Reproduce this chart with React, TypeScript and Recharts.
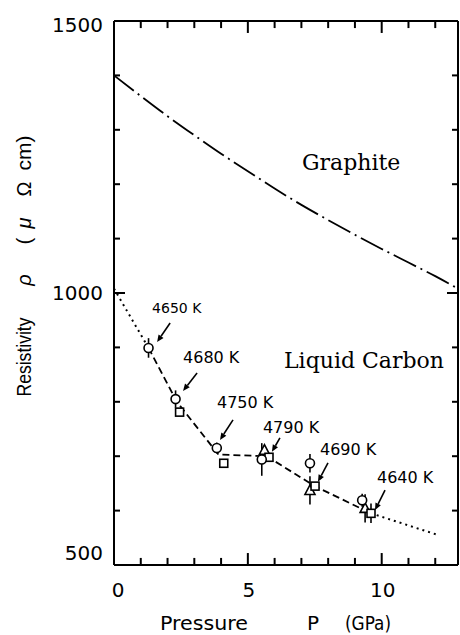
import React from "react";
import { ComposedChart, Line, Scatter, XAxis, YAxis, ErrorBar } from "recharts";

// graphite curve (dash-dot)
const graphiteP = [0, 1, 2, 3, 4, 5, 6, 7, 8, 9, 10, 11, 12, 12.85];
const graphiteRho = [1400, 1362, 1325, 1290, 1256, 1224, 1192, 1162, 1134, 1107, 1081, 1056, 1031, 1008];

// liquid carbon guide curve: dotted head, dashed middle, dotted tail
const headP = [0, 1.29];
const headRho = [1008, 899];
const fitP = [1.29, 2.35, 3.9, 5.7, 7.5, 9.6];
const fitRho = [899, 800, 703, 700, 645, 595];
const tailP = [9.6, 12.05];
const tailRho = [595, 556];

// measured points
const circleP = [1.29, 2.3, 3.84, 5.52, 7.32, 9.27];
const circleRho = [899, 805, 715, 694, 687, 619];
const circleErr = [18, 16, 10, 30, 17, 12];
const squareP = [2.45, 4.1, 5.79, 7.51, 9.6];
const squareRho = [781, 687, 698, 645, 595];
const squareErr = [0, 0, 0, 0, 18];
const triangleP = [5.62, 7.32, 9.38];
const triangleRho = [711, 637, 604];
const triangleErr = [0, 26, 26];

// temperature callouts (arrow tip location)
const calloutLabels = ["4650 K", "4680 K", "4750 K", "4790 K", "4690 K", "4640 K"];
const calloutP = [1.61, 2.58, 3.96, 5.9, 7.62, 9.75];
const calloutRho = [910, 820, 730, 708, 653, 601];

const xTicks = [0, 1, 2, 3, 4, 5, 6, 7, 8, 9, 10, 11, 12];
const yTicks = [500, 600, 700, 800, 900, 1000, 1100, 1200, 1300, 1400, 1500];
const P_MAX = 12.85;
const RHO_MIN = 500;
const RHO_MAX = 1500;

// pixel offsets of label text and arrow tail relative to the arrow tip
const CALLOUT_LAYOUT = [
  { tx: -5, ty: -34, ax: 13, ay: -19, fs: 14 },
  { tx: 0, ty: -34, ax: 14, ay: -18, fs: 16 },
  { tx: -3, ty: -38, ax: 13, ay: -20, fs: 16 },
  { tx: -9, ty: -25, ax: 8, ay: -14, fs: 16 },
  { tx: 2, ty: -33, ax: 10, ay: -19, fs: 16 },
  { tx: 2, ty: -33, ax: 10, ay: -20, fs: 16 },
];

const SANS = "'DejaVu Sans', sans-serif";
const NARROW = "'Liberation Sans', Arial, sans-serif";
const SERIF = "'DejaVu Serif', serif";

const zip = (ps: number[], rs: number[]) => ps.map((p, i) => ({ p, rho: rs[i] }));
const zipErr = (ps: number[], rs: number[], es: number[]) =>
  ps.map((p, i) => ({ p, rho: rs[i], err: es[i] }));

const graphiteData = zip(graphiteP, graphiteRho);
const headData = zip(headP, headRho);
const fitData = zip(fitP, fitRho);
const tailData = zip(tailP, tailRho);
const circleData = zipErr(circleP, circleRho, circleErr);
const squareData = zipErr(squareP, squareRho, squareErr);
const triangleData = zipErr(triangleP, triangleRho, triangleErr);
const calloutData = calloutLabels.map((label, i) => ({ p: calloutP[i], rho: calloutRho[i], label, i }));

// frame (top and right edges)
const topFrame = [{ p: 0, rho: RHO_MAX }, { p: P_MAX, rho: RHO_MAX }];
const rightFrame = [{ p: P_MAX, rho: RHO_MIN }, { p: P_MAX, rho: RHO_MAX }];
const rightTickData = yTicks.map((rho) => ({ p: P_MAX, rho, v: rho }));

// x tick marks as short vertical segments (length in rho units, ~0.544 px per unit)
const tickLen = (v: number) => (v % 5 === 0 ? 22 : 13);
const bottomTickSegs = xTicks.map((v) => [{ p: v, rho: RHO_MIN }, { p: v, rho: RHO_MIN + tickLen(v) }]);
const topTickSegs = xTicks.map((v) => [{ p: v, rho: RHO_MAX - tickLen(v) }, { p: v, rho: RHO_MAX }]);

const RightTickMark = ({ cx, cy, payload }: any) => {
  const len = payload.v % 500 === 0 ? 11 : 6;
  return <path d={`M${cx},${cy}L${cx - len},${cy}`} stroke="#000" strokeWidth={2} fill="none" />;
};

const XLabel = (props: any) => {
  const { payload } = props;
  const x = Number(props.x);
  const y = Number(props.y);
  if (payload.value % 5 !== 0) return <g />;
  return (
    <text x={x + (payload.value === 0 ? 4 : 1)} y={y + 32} textAnchor="middle" fontSize={20} fontFamily={SANS} fill="#000">
      {payload.value}
    </text>
  );
};

const YTick = (props: any) => {
  const { payload } = props;
  const x = Number(props.x);
  const y = Number(props.y);
  const major = payload.value % 500 === 0;
  const len = major ? 11 : 6;
  const dy = payload.value === 500 ? -5 : payload.value === 1500 ? 11 : 7;
  return (
    <g>
      <path d={`M${x},${y}L${x + len},${y}`} stroke="#000" strokeWidth={2} fill="none" />
      {major && (
        <text x={x - 11} y={y + dy} textAnchor="end" fontSize={20} fontFamily={SANS} fill="#000">
          {payload.value}
        </text>
      )}
    </g>
  );
};

const OpenCircle = ({ cx, cy }: any) => (
  <circle cx={cx} cy={cy} r={4.5} fill="#fff" stroke="#000" strokeWidth={1.6} />
);
const OpenSquare = ({ cx, cy }: any) => (
  <rect x={cx - 4} y={cy - 4} width={8} height={8} fill="#fff" stroke="#000" strokeWidth={1.6} />
);
const OpenTriangle = ({ cx, cy }: any) => (
  <path d={`M${cx},${cy - 5.5} L${cx + 5},${cy + 4} L${cx - 5},${cy + 4} Z`} fill="#fff" stroke="#000" strokeWidth={1.6} />
);

const Callout = ({ cx, cy, payload }: any) => {
  const o = CALLOUT_LAYOUT[payload.i];
  const x0 = cx + o.ax;
  const y0 = cy + o.ay;
  const ang = Math.atan2(cy - y0, cx - x0);
  const hl = 7;
  const hw = 3;
  const bx = cx - hl * Math.cos(ang);
  const by = cy - hl * Math.sin(ang);
  const px = -Math.sin(ang) * hw;
  const py = Math.cos(ang) * hw;
  return (
    <g>
      <line x1={x0} y1={y0} x2={bx} y2={by} stroke="#000" strokeWidth={1.6} />
      <path d={`M${cx},${cy} L${bx + px},${by + py} L${bx - px},${by - py} Z`} fill="#000" />
      <text x={cx + o.tx} y={cy + o.ty + o.fs * 0.36} fontSize={o.fs} fontFamily={SANS} fill="#000">
        {payload.label}
      </text>
    </g>
  );
};

export default function App() {
  return (
    <div style={{ position: "absolute", left: 0, top: 0, width: 460, height: 635, background: "#fff" }}>
      <ComposedChart width={460} height={635} margin={{ top: 21, right: 2, bottom: 69, left: 113 }}>
        <XAxis
          xAxisId="b"
          type="number"
          dataKey="p"
          domain={[0, P_MAX]}
          ticks={xTicks}
          interval={0}
          height={1}
          tickSize={0}
          tickMargin={0}
          axisLine={{ stroke: "#000", strokeWidth: 2 }}
          tick={(p: any) => <XLabel {...p} />}
        />
        <YAxis
          yAxisId="l"
          type="number"
          dataKey="rho"
          domain={[RHO_MIN, RHO_MAX]}
          ticks={yTicks}
          interval={0}
          width={1}
          tickSize={0}
          tickMargin={0}
          axisLine={{ stroke: "#000", strokeWidth: 2 }}
          tick={(p: any) => <YTick {...p} />}
        />

        <Line xAxisId="b" yAxisId="l" data={topFrame} dataKey="rho" type="linear" stroke="#000" strokeWidth={2} dot={false} isAnimationActive={false} />
        <Line xAxisId="b" yAxisId="l" data={rightFrame} dataKey="rho" type="linear" stroke="#000" strokeWidth={2} dot={false} isAnimationActive={false} />
        {bottomTickSegs.map((seg, i) => (
          <Line key={`bt${i}`} xAxisId="b" yAxisId="l" data={seg} dataKey="rho" type="linear" stroke="#000" strokeWidth={2} dot={false} isAnimationActive={false} />
        ))}
        {topTickSegs.map((seg, i) => (
          <Line key={`tt${i}`} xAxisId="b" yAxisId="l" data={seg} dataKey="rho" type="linear" stroke="#000" strokeWidth={2} dot={false} isAnimationActive={false} />
        ))}

        <Line xAxisId="b" yAxisId="l" data={graphiteData} dataKey="rho" type="monotone" stroke="#000" strokeWidth={1.8} strokeDasharray="25 5 2 5" dot={false} isAnimationActive={false} />
        <Line xAxisId="b" yAxisId="l" data={headData} dataKey="rho" type="linear" stroke="#000" strokeWidth={2} strokeDasharray="2 4" dot={false} isAnimationActive={false} />
        <Line xAxisId="b" yAxisId="l" data={fitData} dataKey="rho" type="linear" stroke="#000" strokeWidth={1.8} strokeDasharray="7 4" dot={false} isAnimationActive={false} />
        <Line xAxisId="b" yAxisId="l" data={tailData} dataKey="rho" type="linear" stroke="#000" strokeWidth={2} strokeDasharray="2 4" dot={false} isAnimationActive={false} />

        <Scatter xAxisId="b" yAxisId="l" data={triangleData} dataKey="rho" shape={OpenTriangle} isAnimationActive={false}>
          <ErrorBar dataKey="err" direction="y" width={0} stroke="#000" strokeWidth={1.6} />
        </Scatter>
        <Scatter xAxisId="b" yAxisId="l" data={squareData} dataKey="rho" shape={OpenSquare} isAnimationActive={false}>
          <ErrorBar dataKey="err" direction="y" width={0} stroke="#000" strokeWidth={1.6} />
        </Scatter>
        <Scatter xAxisId="b" yAxisId="l" data={circleData} dataKey="rho" shape={OpenCircle} isAnimationActive={false}>
          <ErrorBar dataKey="err" direction="y" width={0} stroke="#000" strokeWidth={1.6} />
        </Scatter>
        <Scatter xAxisId="b" yAxisId="l" data={calloutData} dataKey="rho" shape={Callout} isAnimationActive={false} />
        <Scatter xAxisId="b" yAxisId="l" data={rightTickData} dataKey="rho" shape={RightTickMark} isAnimationActive={false} />

        <text x={302} y={170} fontSize={22} fontFamily={SERIF} fill="#000">Graphite</text>
        <text x={284} y={368} fontSize={22} fontFamily={SERIF} fill="#000">Liquid Carbon</text>

        <text x={160} y={630} fontSize={20} fontFamily={SANS} fill="#000" textLength={88} lengthAdjust="spacingAndGlyphs">Pressure</text>
        <text x={307} y={630} fontSize={20} fontFamily={SANS} fill="#000">P</text>
        <text x={345} y={630} fontSize={20} fontFamily={SANS} fill="#000" textLength={46} lengthAdjust="spacingAndGlyphs">(GPa)</text>

        <g transform="translate(31, 0)">
          <text transform="rotate(-90)" x={-357} y={0} textAnchor="middle" fontSize={21} fontFamily={NARROW} fill="#000" textLength={79} lengthAdjust="spacingAndGlyphs">Resistivity</text>
          <text transform="rotate(-90)" x={-280} y={0} textAnchor="middle" fontSize={20} fontFamily={NARROW} fontStyle="italic" fill="#000">ρ</text>
          <text transform="rotate(-90)" x={-241} y={0} textAnchor="middle" fontSize={21} fontFamily={NARROW} fill="#000">(</text>
          <text transform="rotate(-90)" x={-223} y={0} textAnchor="middle" fontSize={20} fontFamily={NARROW} fontStyle="italic" fill="#000">μ</text>
          <text transform="rotate(-90)" x={-189} y={0} textAnchor="middle" fontSize={20} fontFamily={NARROW} fill="#000">Ω</text>
          <text transform="rotate(-90)" x={-153} y={0} textAnchor="middle" fontSize={21} fontFamily={NARROW} fill="#000">cm)</text>
        </g>
      </ComposedChart>
    </div>
  );
}
